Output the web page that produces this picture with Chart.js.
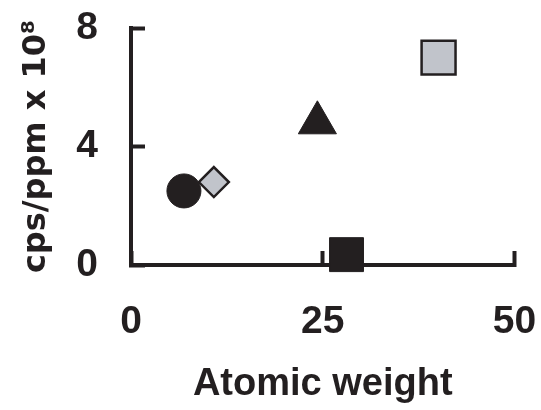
<!DOCTYPE html>
<html>
<head>
<meta charset="utf-8">
<script src="https://cdn.jsdelivr.net/npm/chart.js@4.4.0/dist/chart.umd.min.js"></script>
<style>
    html, body { margin: 0; padding: 0; background: #ffffff; }
    #wrap { width: 541px; height: 410px; }
</style>
</head>
<body>
<div id="wrap"><canvas id="sensitivityChart" width="541" height="410"></canvas></div>
<script>
// values
const elements = ["Li", "B", "Mg", "Si", "Ca"];
const atomicWeight = [6.9, 10.8, 24.3, 28.1, 40.1];
const cpsPerPpm = [2.5, 2.8, 4.8, 0.35, 7.0];
const xTicks = [0, 25, 50];
const yTicks = [0, 4, 8];

const INK = "#231f20";
const GREY = "#c1c4cb";

// one marker per element
const markerStyles = [
    { shape: "circle", radius: 17, fill: INK, border: 1 },
    { shape: "rectRot", radius: 15, fill: GREY, border: 2.5 },
    { shape: "triangle", radius: 22, fill: INK, border: 1 },
    { shape: "rect", radius: 24, fill: INK, border: 1 },
    { shape: "rect", radius: 24, fill: GREY, border: 2.5 }
];

document.addEventListener("DOMContentLoaded", function () {
    const canvas = document.getElementById("sensitivityChart");

    const datasets = elements.map(function (name, i) {
        const st = markerStyles[i];
        return {
            label: name,
            data: [{ x: atomicWeight[i], y: cpsPerPpm[i] }],
            pointStyle: st.shape,
            pointRadius: st.radius,
            pointBackgroundColor: st.fill,
            pointBorderColor: INK,
            pointBorderWidth: st.border,
            clip: false
        };
    });

    new Chart(canvas, {
        type: "scatter",
        data: { datasets: datasets },
        options: {
            responsive: false,
            animation: false,
            events: [],
            layout: {
                padding: { left: 0, top: 28, right: 23, bottom: 0 }
            },
            plugins: {
                legend: { display: false },
                tooltip: { enabled: false }
            },
            scales: {
                x: {
                    type: "linear",
                    min: 0,
                    max: 50,
                    afterBuildTicks: function (scale) {
                        scale.ticks = xTicks.map(function (v) { return { value: v }; });
                    },
                    afterFit: function (scale) {
                        // the big label padding should not eat into the plot
                        scale.height = 145;
                        scale.paddingLeft = 0;
                        scale.paddingRight = 0;
                    },
                    border: { display: true, color: INK, width: 4 },
                    grid: {
                        drawOnChartArea: false,
                        drawTicks: true,
                        tickLength: -14,
                        tickWidth: 4,
                        tickColor: INK
                    },
                    ticks: {
                        padding: 48,
                        color: INK,
                        font: { family: "'Liberation Sans', Arial, sans-serif", size: 39, weight: "bold" }
                    },
                    title: {
                        display: true,
                        text: "Atomic weight",
                        color: INK,
                        padding: { top: 0, bottom: 3 },
                        font: { family: "'Liberation Sans', Arial, sans-serif", size: 38, weight: "bold" }
                    }
                },
                y: {
                    type: "linear",
                    min: 0,
                    max: 8,
                    afterBuildTicks: function (scale) {
                        scale.ticks = yTicks.map(function (v) { return { value: v }; });
                    },
                    afterFit: function (scale) {
                        scale.width = 131;
                        scale.paddingTop = 0;
                        scale.paddingBottom = 0;
                    },
                    border: { display: true, color: INK, width: 4 },
                    grid: {
                        drawOnChartArea: false,
                        drawTicks: true,
                        tickLength: -14,
                        tickWidth: 4,
                        tickColor: INK
                    },
                    ticks: {
                        padding: 47,
                        color: INK,
                        font: { family: "'Liberation Sans', Arial, sans-serif", size: 39, weight: "bold" }
                    },
                    title: {
                        display: true,
                        text: "cps/ppm x 10\u2078",
                        color: INK,
                        padding: { top: 17, bottom: 0 },
                        font: { family: "'DejaVu Sans', sans-serif", size: 32, weight: "bold" }
                    }
                }
            }
        }
    });
});
</script>
</body>
</html>
